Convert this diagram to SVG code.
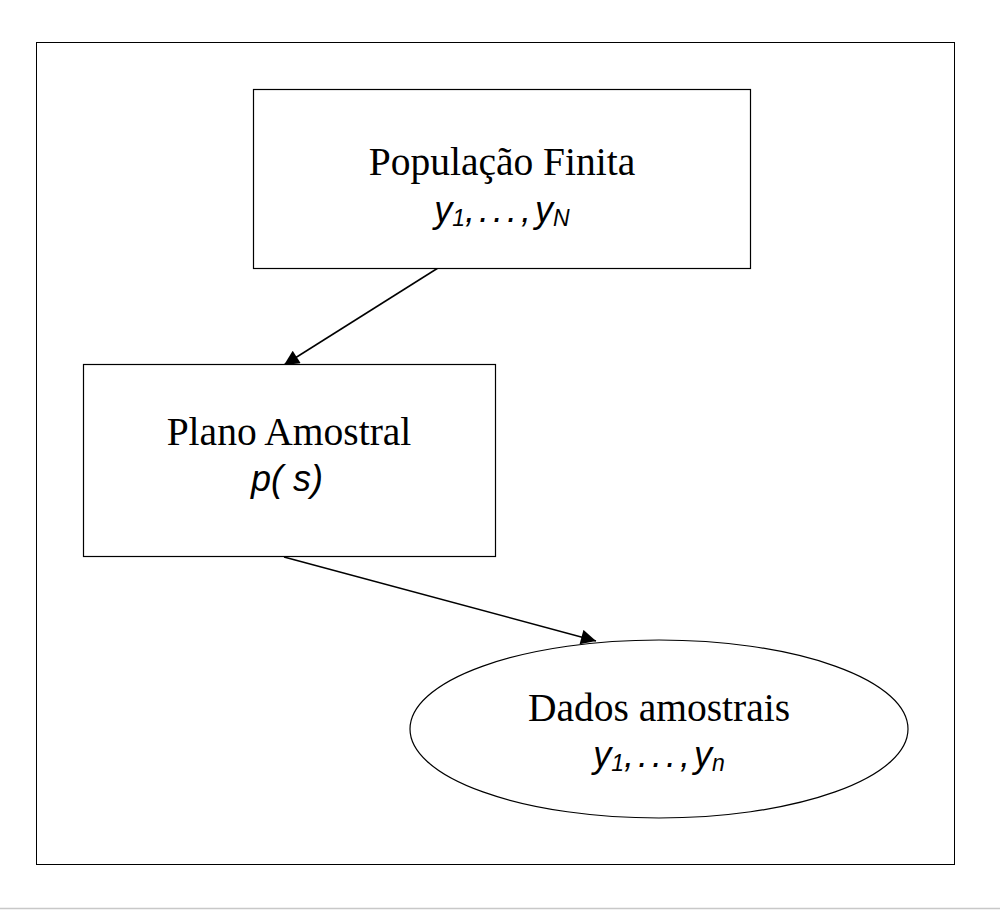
<svg xmlns="http://www.w3.org/2000/svg" width="1000" height="910" viewBox="0 0 1000 910">
<defs>
<style>
.shape{fill:#fff;stroke:#000;stroke-width:1.2}
.lbl{font-family:"Liberation Serif","Times New Roman",serif;font-size:39.5px;fill:#000;text-anchor:middle}
.math{font-family:"Liberation Sans",Arial,sans-serif;font-style:italic;font-size:36px;fill:#000;text-anchor:middle}
.sub{font-size:23px}
.dots{letter-spacing:-3px}
.conn{stroke:#000;stroke-width:1.5;fill:none}
</style>
<marker id="arr" viewBox="0 0 10 10" refX="10" refY="5" markerWidth="17" markerHeight="15" markerUnits="userSpaceOnUse" orient="auto">
<path d="M0,0 L10,5 L0,10 z" fill="#000"/>
</marker>
</defs>
<rect width="1000" height="910" fill="#fff"/>
<rect x="36.5" y="42.5" width="918" height="822" fill="none" stroke="#000" stroke-width="1"/>
<line x1="0" y1="908.5" x2="1000" y2="908.5" stroke="#c8c8c8" stroke-width="1.5"/>
<g id="connectors">
<line class="conn" x1="438" y1="268" x2="284" y2="365" marker-end="url(#arr)"/>
<line class="conn" x1="284" y1="557" x2="596" y2="641" marker-end="url(#arr)"/>
</g>
<g id="populacao">
<rect class="shape" x="253.5" y="89.5" width="497" height="179"/>
<text class="lbl" x="502" y="175">População Finita</text>
<text class="math" x="502" y="222">y<tspan class="sub" dy="4">1</tspan><tspan class="dots" dy="-4">, . . . , </tspan>y<tspan class="sub" dy="4">N</tspan></text>
</g>
<g id="plano">
<rect class="shape" x="83.5" y="364.5" width="412" height="192"/>
<text class="lbl" x="289" y="445">Plano Amostral</text>
<text class="math" x="287" y="491">p( s)</text>
</g>
<g id="dados">
<ellipse class="shape" cx="659" cy="729" rx="249" ry="89"/>
<text class="lbl" x="659" y="721">Dados amostrais</text>
<text class="math" x="659" y="767">y<tspan class="sub" dy="4">1</tspan><tspan class="dots" dy="-4">, . . . , </tspan>y<tspan class="sub" dy="4">n</tspan></text>
</g>
</svg>
